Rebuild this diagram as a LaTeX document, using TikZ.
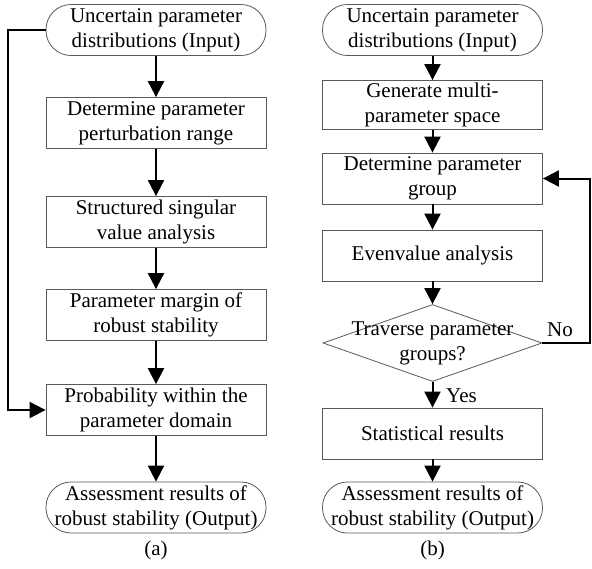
\documentclass[tikz,border=0pt]{standalone}
\usepackage{fontspec}
\setmainfont{Liberation Serif}
\usetikzlibrary{shapes.geometric,arrows.meta}
\begin{document}
\begin{tikzpicture}[x=1pt,y=-1pt,
  font=\fontsize{21}{25}\selectfont,
  box/.style={draw=black!65, line width=0.8pt, minimum width=220pt, minimum height=51pt, align=center, inner sep=0pt},
  term/.style={box, rounded corners=25pt, minimum height=51pt},
  arr/.style={line width=2pt, -{Triangle[length=16pt,width=16pt]}},
  lbl/.style={inner sep=0pt}]
\useasboundingbox (0,0) rectangle (592,568);
% left flowchart
\node[term] (a0) at (156,30) {Uncertain parameter\\distributions (Input)};
\node[box] (a1) at (156,123) {Determine parameter\\perturbation range};
\node[box] (a2) at (156,222) {Structured singular\\value analysis};
\node[box] (a3) at (156,315) {Parameter margin of\\robust stability};
\node[box] (a4) at (156,410) {Probability within the\\parameter domain};
\node[term] (a5) at (156,507.5) {Assessment results of\\robust stability (Output)};
\node[lbl] (capa) at (156,550) {(a)};
\draw[arr] (a0) -- (a1);
\draw[arr] (a1) -- (a2);
\draw[arr] (a2) -- (a3);
\draw[arr] (a3) -- (a4);
\draw[arr] (a4) -- (a5);
\draw[arr] (a0.west) -- ++(-38,0) |- (a4.west);
% right flowchart
\node[term] (b0) at (432.5,30) {Uncertain parameter\\distributions (Input)};
\node[box, minimum height=49pt] (b1) at (432.5,105) {Generate multi-\\parameter space};
\node[box] (b2) at (432.5,178.5) {Determine parameter\\group};
\node[box] (b3) at (432.5,255.5) {Evenvalue analysis};
\node[diamond, draw=black!65, line width=0.8pt, minimum width=219pt, minimum height=77pt, inner sep=0pt] (dia) at (432.5,343) {};
\node[lbl, align=center] (diat) at (dia.center) {Traverse parameter\\groups?};
\node[box] (b4) at (432.5,433.5) {Statistical results};
\node[term] (b5) at (432.5,507.5) {Assessment results of\\robust stability (Output)};
\node[lbl] (capb) at (432.5,550) {(b)};
\draw[arr] (b0) -- (b1);
\draw[arr] (b1) -- (b2);
\draw[arr] (b2) -- (b3);
\draw[arr] (b3) -- (dia);
\draw[arr] (dia) -- (b4);
\draw[arr] (b4) -- (b5);
\draw[arr] (dia.east) -- ++(48,0) |- (b2.east);
\node[lbl, anchor=west] (no) at (547,330) {No};
\node[lbl, anchor=west] (yes) at (446,396) {Yes};
\end{tikzpicture}
\end{document}
